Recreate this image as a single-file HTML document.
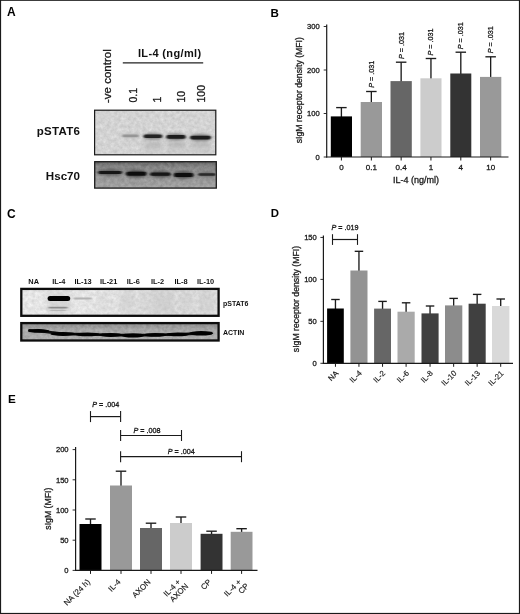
<!DOCTYPE html>
<html><head><meta charset="utf-8"><title>Figure</title>
<style>
html,body{margin:0;padding:0;background:#fff;}
body{width:520px;height:614px;overflow:hidden;}
svg{display:block;}
svg text{font-family:"Liberation Sans",sans-serif;}
</style></head><body>
<svg width="520" height="614" viewBox="0 0 520 614">
<defs>
<filter id="nz" x="0" y="0" width="100%" height="100%" color-interpolation-filters="sRGB"><feTurbulence type="fractalNoise" baseFrequency="0.28" numOctaves="3" seed="7" result="t"/><feColorMatrix in="t" type="matrix" values="1 0 0 0 0  1 0 0 0 0  1 0 0 0 0  0 0 0 0 1" result="g"/><feComposite in="SourceGraphic" in2="g" operator="arithmetic" k1="0" k2="1" k3="0.16" k4="-0.08" result="c"/><feComposite in="c" in2="SourceGraphic" operator="in"/></filter>
<filter id="b0" x="-20%" y="-150%" width="140%" height="400%"><feGaussianBlur stdDeviation="0.55 0.5"/></filter>
<filter id="b1" x="-20%" y="-150%" width="140%" height="400%"><feGaussianBlur stdDeviation="1.0 0.75"/></filter>
<filter id="b2" x="-20%" y="-150%" width="140%" height="400%"><feGaussianBlur stdDeviation="1.6 1.4"/></filter>
<filter id="b3" x="-30%" y="-50%" width="160%" height="200%"><feGaussianBlur stdDeviation="2.5 3"/></filter>
<clipPath id="cC1"><rect x="22.3" y="289.8" width="195.4" height="25"/></clipPath>
<clipPath id="cC2"><rect x="22.3" y="324" width="195.4" height="15.6"/></clipPath>
<linearGradient id="gC1" x1="0" y1="0" x2="1" y2="0"><stop offset="0" stop-color="#e6e6e6"/><stop offset="0.45" stop-color="#e3e3e3"/><stop offset="0.7" stop-color="#dadada"/><stop offset="1" stop-color="#dcdcdc"/></linearGradient>
<linearGradient id="gC2" x1="0" y1="0" x2="0" y2="1"><stop offset="0" stop-color="#8e8e8e"/><stop offset="0.4" stop-color="#a6a6a6"/><stop offset="1" stop-color="#aeaeae"/></linearGradient>
<clipPath id="cA1"><rect x="95.2" y="110.8" width="120" height="43.4"/></clipPath>
<clipPath id="cA2"><rect x="95.2" y="162.6" width="120.6" height="25.2"/></clipPath>
<linearGradient id="gA2" x1="0" y1="0" x2="0" y2="1"><stop offset="0" stop-color="#666"/><stop offset="0.2" stop-color="#858585"/><stop offset="0.5" stop-color="#959595"/><stop offset="1" stop-color="#a2a2a2"/></linearGradient>
</defs>
<rect x="0" y="0" width="520" height="614" fill="#fff"/>
<text x="7" y="16.3" font-size="12" text-anchor="start" font-weight="bold" fill="#000">A</text>
<text x="270.6" y="16.8" font-size="11.6" text-anchor="start" font-weight="bold" fill="#000">B</text>
<text x="7.1" y="217.6" font-size="12" text-anchor="start" font-weight="bold" fill="#000">C</text>
<text x="270.7" y="217.3" font-size="11.4" text-anchor="start" font-weight="bold" fill="#000">D</text>
<text x="8" y="402.8" font-size="11.7" text-anchor="start" font-weight="bold" fill="#000">E</text>
<text x="111.3" y="103" font-size="11.5" text-anchor="start" font-weight="normal" fill="#1a1a1a" stroke="#1a1a1a" stroke-width="0.3" transform="rotate(-90 111.3 103)">-ve control</text>
<text x="169.7" y="56.7" font-size="11" text-anchor="middle" font-weight="bold" fill="#111" letter-spacing="0.36">IL-4 (ng/ml)</text>
<line x1="122.8" y1="62.9" x2="203.2" y2="62.9" stroke="#222" stroke-width="1.1"/>
<text x="136.8" y="102.5" font-size="10.5" text-anchor="start" font-weight="normal" fill="#1a1a1a" stroke="#1a1a1a" stroke-width="0.3" transform="rotate(-90 136.8 102.5)">0.1</text>
<text x="161" y="102.5" font-size="10.5" text-anchor="start" font-weight="normal" fill="#1a1a1a" stroke="#1a1a1a" stroke-width="0.3" transform="rotate(-90 161 102.5)">1</text>
<text x="185" y="102.5" font-size="10.5" text-anchor="start" font-weight="normal" fill="#1a1a1a" stroke="#1a1a1a" stroke-width="0.3" transform="rotate(-90 185 102.5)">10</text>
<text x="204.5" y="102.5" font-size="10.5" text-anchor="start" font-weight="normal" fill="#1a1a1a" stroke="#1a1a1a" stroke-width="0.3" transform="rotate(-90 204.5 102.5)">100</text>
<text x="80.2" y="134.7" font-size="11.5" text-anchor="end" font-weight="bold" fill="#111" letter-spacing="0.3">pSTAT6</text>
<text x="80" y="180.1" font-size="11.6" text-anchor="end" font-weight="bold" fill="#111">Hsc70</text>
<rect x="94.6" y="110.2" width="121.2" height="44.6" fill="#d3d3d3" filter="url(#nz)"/>
<rect x="94.6" y="110.2" width="121.2" height="44.6" fill="none" stroke="#1a1a1a" stroke-width="1.2"/>
<g clip-path="url(#cA1)">
<rect x="143" y="139" width="19" height="15" fill="#bdbdbd" opacity="0.45" filter="url(#b3)"/>
<rect x="166" y="139" width="20" height="15" fill="#bdbdbd" opacity="0.45" filter="url(#b3)"/>
<rect x="190" y="139" width="21" height="15" fill="#bdbdbd" opacity="0.45" filter="url(#b3)"/>
<ellipse cx="130.5" cy="135.9" rx="9.0" ry="2.25" fill="#bdbdbd" filter="url(#b2)"/>
<rect x="122.3" y="134.5" width="16.4" height="2.8" rx="1.4" fill="#969696" filter="url(#b1)"/>
<ellipse cx="152.9" cy="136.3" rx="9.900000000000006" ry="3.0" fill="#777" filter="url(#b2)"/>
<rect x="143.8" y="134.60000000000002" width="18.20000000000001" height="3.4" rx="1.7" fill="#222" filter="url(#b1)"/>
<ellipse cx="176.0" cy="136.9" rx="10.199999999999989" ry="3.25" fill="#707070" filter="url(#b2)"/>
<rect x="166.60000000000002" y="135.1" width="18.799999999999976" height="3.6" rx="1.8" fill="#1c1c1c" filter="url(#b1)"/>
<ellipse cx="200.5" cy="137.6" rx="11.0" ry="3.25" fill="#707070" filter="url(#b2)"/>
<rect x="190.3" y="135.79999999999998" width="20.4" height="3.6" rx="1.8" fill="#1c1c1c" filter="url(#b1)"/>
<rect x="146" y="143.5" width="15" height="2.5" fill="#a0a0a0" opacity="0.55" filter="url(#b2)"/>
<rect x="169" y="143.5" width="16" height="2.5" fill="#a0a0a0" opacity="0.55" filter="url(#b2)"/>
<rect x="192" y="143.5" width="18" height="2.5" fill="#a0a0a0" opacity="0.55" filter="url(#b2)"/>
</g>
<rect x="94.7" y="161.7" width="121.6" height="26.4" fill="url(#gA2)" filter="url(#nz)"/>
<rect x="94.7" y="161.7" width="121.6" height="26.4" fill="none" stroke="#1a1a1a" stroke-width="1.3"/>
<g clip-path="url(#cA2)">
<ellipse cx="110.05" cy="172.5" rx="12.450000000000003" ry="3.0" fill="#555" filter="url(#b2)"/>
<rect x="98.39999999999999" y="171.1" width="23.300000000000004" height="2.8" rx="1.4" fill="#161616" filter="url(#b1)"/>
<ellipse cx="136.25" cy="173.8" rx="10.75" ry="3.75" fill="#4a4a4a" filter="url(#b2)"/>
<rect x="126.3" y="171.8" width="19.9" height="4.0" rx="2.0" fill="#0a0a0a" filter="url(#b1)"/>
<ellipse cx="160.39999999999998" cy="174.2" rx="10.799999999999997" ry="3.25" fill="#505050" filter="url(#b2)"/>
<rect x="150.4" y="172.6" width="19.999999999999993" height="3.2" rx="1.6" fill="#121212" filter="url(#b1)"/>
<ellipse cx="183.6" cy="174.9" rx="10.400000000000006" ry="3.75" fill="#4a4a4a" filter="url(#b2)"/>
<rect x="174.0" y="172.9" width="19.20000000000001" height="4.0" rx="2.0" fill="#0a0a0a" filter="url(#b1)"/>
<ellipse cx="207.0" cy="174.5" rx="9.5" ry="2.5" fill="#666" filter="url(#b2)"/>
<rect x="198.3" y="173.3" width="17.4" height="2.4" rx="1.2" fill="#2a2a2a" filter="url(#b1)"/>
</g>
<line x1="341.4" y1="107.6" x2="341.4" y2="117.4" stroke="#1c1c1c" stroke-width="1.35"/>
<line x1="336.15" y1="107.6" x2="346.65" y2="107.6" stroke="#1c1c1c" stroke-width="1.35"/>
<rect x="330.8" y="116.4" width="21.19999999999999" height="40.599999999999994" fill="#000"/>
<line x1="371.35" y1="91.5" x2="371.35" y2="103" stroke="#1c1c1c" stroke-width="1.35"/>
<line x1="366.1" y1="91.5" x2="376.6" y2="91.5" stroke="#1c1c1c" stroke-width="1.35"/>
<rect x="360.7" y="102" width="21.30000000000001" height="55.0" fill="#999"/>
<line x1="401.15" y1="62.2" x2="401.15" y2="82.1" stroke="#1c1c1c" stroke-width="1.35"/>
<line x1="395.9" y1="62.2" x2="406.4" y2="62.2" stroke="#1c1c1c" stroke-width="1.35"/>
<rect x="390.5" y="81.1" width="21.30000000000001" height="75.9" fill="#666"/>
<line x1="430.95" y1="58.5" x2="430.95" y2="79.3" stroke="#1c1c1c" stroke-width="1.35"/>
<line x1="425.7" y1="58.5" x2="436.2" y2="58.5" stroke="#1c1c1c" stroke-width="1.35"/>
<rect x="420.4" y="78.3" width="21.100000000000023" height="78.7" fill="#ccc"/>
<line x1="460.8" y1="52.2" x2="460.8" y2="74.5" stroke="#1c1c1c" stroke-width="1.35"/>
<line x1="455.55" y1="52.2" x2="466.05" y2="52.2" stroke="#1c1c1c" stroke-width="1.35"/>
<rect x="450.3" y="73.5" width="21.0" height="83.5" fill="#333"/>
<line x1="490.65" y1="56.8" x2="490.65" y2="77.9" stroke="#1c1c1c" stroke-width="1.35"/>
<line x1="485.4" y1="56.8" x2="495.9" y2="56.8" stroke="#1c1c1c" stroke-width="1.35"/>
<rect x="480" y="76.9" width="21.30000000000001" height="80.1" fill="#999"/>
<line x1="326.7" y1="24.5" x2="326.7" y2="157.6" stroke="#1a1a1a" stroke-width="1.2"/>
<line x1="326.09999999999997" y1="157.0" x2="508.5" y2="157.0" stroke="#1a1a1a" stroke-width="1.2"/>
<line x1="323.7" y1="157.0" x2="326.7" y2="157.0" stroke="#1a1a1a" stroke-width="0.9"/>
<text x="319.7" y="159.75" font-size="7.6" text-anchor="end" font-weight="normal" fill="#1a1a1a" stroke="#1a1a1a" stroke-width="0.3">0</text>
<line x1="323.7" y1="113.5" x2="326.7" y2="113.5" stroke="#1a1a1a" stroke-width="0.9"/>
<text x="319.7" y="116.25" font-size="7.6" text-anchor="end" font-weight="normal" fill="#1a1a1a" stroke="#1a1a1a" stroke-width="0.3">100</text>
<line x1="323.7" y1="70.0" x2="326.7" y2="70.0" stroke="#1a1a1a" stroke-width="0.9"/>
<text x="319.7" y="72.75" font-size="7.6" text-anchor="end" font-weight="normal" fill="#1a1a1a" stroke="#1a1a1a" stroke-width="0.3">200</text>
<line x1="323.7" y1="26.5" x2="326.7" y2="26.5" stroke="#1a1a1a" stroke-width="0.9"/>
<text x="319.7" y="29.25" font-size="7.6" text-anchor="end" font-weight="normal" fill="#1a1a1a" stroke="#1a1a1a" stroke-width="0.3">300</text>
<line x1="341.4" y1="157.0" x2="341.4" y2="160.5" stroke="#1a1a1a" stroke-width="1"/>
<text x="341.4" y="170" font-size="8" text-anchor="middle" font-weight="normal" fill="#1a1a1a" stroke="#1a1a1a" stroke-width="0.3">0</text>
<line x1="371.35" y1="157.0" x2="371.35" y2="160.5" stroke="#1a1a1a" stroke-width="1"/>
<text x="371.35" y="170" font-size="8" text-anchor="middle" font-weight="normal" fill="#1a1a1a" stroke="#1a1a1a" stroke-width="0.3">0.1</text>
<line x1="401.15" y1="157.0" x2="401.15" y2="160.5" stroke="#1a1a1a" stroke-width="1"/>
<text x="401.15" y="170" font-size="8" text-anchor="middle" font-weight="normal" fill="#1a1a1a" stroke="#1a1a1a" stroke-width="0.3">0.4</text>
<line x1="430.95" y1="157.0" x2="430.95" y2="160.5" stroke="#1a1a1a" stroke-width="1"/>
<text x="430.95" y="170" font-size="8" text-anchor="middle" font-weight="normal" fill="#1a1a1a" stroke="#1a1a1a" stroke-width="0.3">1</text>
<line x1="460.8" y1="157.0" x2="460.8" y2="160.5" stroke="#1a1a1a" stroke-width="1"/>
<text x="460.8" y="170" font-size="8" text-anchor="middle" font-weight="normal" fill="#1a1a1a" stroke="#1a1a1a" stroke-width="0.3">4</text>
<line x1="490.65" y1="157.0" x2="490.65" y2="160.5" stroke="#1a1a1a" stroke-width="1"/>
<text x="490.65" y="170" font-size="8" text-anchor="middle" font-weight="normal" fill="#1a1a1a" stroke="#1a1a1a" stroke-width="0.3">10</text>
<text x="416" y="182.8" font-size="9" text-anchor="middle" font-weight="normal" fill="#1a1a1a" stroke="#1a1a1a" stroke-width="0.3">IL-4 (ng/ml)</text>
<text x="301.7" y="90.2" font-size="8.7" text-anchor="middle" font-weight="normal" fill="#1a1a1a" stroke="#1a1a1a" stroke-width="0.3" transform="rotate(-90 301.7 90.2)">sIgM receptor density (MFI)</text>
<text x="373.6" y="87.7" font-size="7.2" text-anchor="start" font-weight="normal" fill="#1a1a1a" stroke="#1a1a1a" stroke-width="0.3" transform="rotate(-90 373.6 87.7)"><tspan font-style="italic">P</tspan> = .031</text>
<text x="403.6" y="59" font-size="7.2" text-anchor="start" font-weight="normal" fill="#1a1a1a" stroke="#1a1a1a" stroke-width="0.3" transform="rotate(-90 403.6 59)"><tspan font-style="italic">P</tspan> = .031</text>
<text x="433.2" y="55.5" font-size="7.2" text-anchor="start" font-weight="normal" fill="#1a1a1a" stroke="#1a1a1a" stroke-width="0.3" transform="rotate(-90 433.2 55.5)"><tspan font-style="italic">P</tspan> = .031</text>
<text x="463.1" y="49.3" font-size="7.2" text-anchor="start" font-weight="normal" fill="#1a1a1a" stroke="#1a1a1a" stroke-width="0.3" transform="rotate(-90 463.1 49.3)"><tspan font-style="italic">P</tspan> = .031</text>
<text x="492.6" y="53.2" font-size="7.2" text-anchor="start" font-weight="normal" fill="#1a1a1a" stroke="#1a1a1a" stroke-width="0.3" transform="rotate(-90 492.6 53.2)"><tspan font-style="italic">P</tspan> = .031</text>
<text x="33.7" y="283.9" font-size="7.4" text-anchor="middle" font-weight="bold" fill="#111">NA</text>
<text x="58.8" y="283.9" font-size="7.4" text-anchor="middle" font-weight="bold" fill="#111">IL-4</text>
<text x="83.1" y="283.9" font-size="7.4" text-anchor="middle" font-weight="bold" fill="#111">IL-13</text>
<text x="108.7" y="283.9" font-size="7.4" text-anchor="middle" font-weight="bold" fill="#111">IL-21</text>
<text x="133.2" y="283.9" font-size="7.4" text-anchor="middle" font-weight="bold" fill="#111">IL-6</text>
<text x="157.5" y="283.9" font-size="7.4" text-anchor="middle" font-weight="bold" fill="#111">IL-2</text>
<text x="181" y="283.9" font-size="7.4" text-anchor="middle" font-weight="bold" fill="#111">IL-8</text>
<text x="205.5" y="283.9" font-size="7.4" text-anchor="middle" font-weight="bold" fill="#111">IL-10</text>
<text x="223" y="305.5" font-size="7" text-anchor="start" font-weight="bold" fill="#111">pSTAT6</text>
<text x="223" y="335.2" font-size="7" text-anchor="start" font-weight="bold" fill="#111">ACTIN</text>
<rect x="21.3" y="288.9" width="197.3" height="26.9" fill="url(#gC1)" filter="url(#nz)"/>
<rect x="21.3" y="288.9" width="197.3" height="26.9" fill="none" stroke="#0c0c0c" stroke-width="2.3"/>
<g clip-path="url(#cC1)">
<rect x="47.2" y="292" width="23" height="22" fill="#c4c4c4" opacity="0.5" filter="url(#b3)"/>
<rect x="120" y="291" width="14" height="22" fill="#c2c2c2" opacity="0.4" filter="url(#b3)"/>
<rect x="140" y="290" width="10" height="24" fill="#c2c2c2" opacity="0.27999999999999997" filter="url(#b3)"/>
<rect x="152" y="291" width="22" height="22" fill="#c2c2c2" opacity="0.44000000000000006" filter="url(#b3)"/>
<rect x="180" y="292" width="12" height="20" fill="#c2c2c2" opacity="0.32000000000000006" filter="url(#b3)"/>
<rect x="198" y="290" width="16" height="24" fill="#c2c2c2" opacity="0.36000000000000004" filter="url(#b3)"/>
<rect x="98" y="292" width="12" height="20" fill="#c2c2c2" opacity="0.2" filter="url(#b3)"/>
<rect x="47.6" y="296.0" width="22.6" height="5.0" rx="2.5" fill="#030303" filter="url(#b0)"/>
<rect x="48.5" y="306.70000000000005" width="19.0" height="1.8" rx="0.9" fill="#8a8a8a" filter="url(#b1)"/>
<rect x="50" y="309.7" width="16" height="1.2" rx="0.6" fill="#b8b8b8" filter="url(#b1)"/>
<rect x="73.5" y="297.6" width="18.5" height="2.0" rx="1.0" fill="#b4b4b4" filter="url(#b1)"/>
</g>
<rect x="21.3" y="323.1" width="197.3" height="17.4" fill="url(#gC2)" filter="url(#nz)"/>
<rect x="21.3" y="323.1" width="197.3" height="17.4" fill="none" stroke="#0c0c0c" stroke-width="2.3"/>
<g clip-path="url(#cC2)">
<polyline points="29.5,330.4 38.7,330.9 63.0,333.9 87.25,334.3 110.75,334.9 133.0,335.4 155.25,334.9 177.75,334.3 201.15,333.3 211,333.2" fill="none" stroke="#0a0a0a" stroke-width="2.8" stroke-linecap="round" stroke-linejoin="round" filter="url(#b0)"/>
<ellipse cx="38.7" cy="330.9" rx="10.8" ry="1.8" fill="#060606" filter="url(#b0)"/>
<ellipse cx="63.0" cy="333.9" rx="12.5" ry="1.9800000000000002" fill="#060606" filter="url(#b0)"/>
<ellipse cx="87.25" cy="334.3" rx="12.25" ry="1.8900000000000001" fill="#060606" filter="url(#b0)"/>
<ellipse cx="110.75" cy="334.9" rx="11.75" ry="1.9800000000000002" fill="#060606" filter="url(#b0)"/>
<ellipse cx="133.0" cy="335.4" rx="11.5" ry="2.16" fill="#060606" filter="url(#b0)"/>
<ellipse cx="155.25" cy="334.9" rx="11.25" ry="1.8900000000000001" fill="#060606" filter="url(#b0)"/>
<ellipse cx="177.75" cy="334.3" rx="11.75" ry="1.8900000000000001" fill="#060606" filter="url(#b0)"/>
<ellipse cx="201.15" cy="333.3" rx="12.150000000000006" ry="2.25" fill="#060606" filter="url(#b0)"/>
</g>
<line x1="335.45000000000005" y1="299.5" x2="335.45000000000005" y2="309.5" stroke="#1c1c1c" stroke-width="1.35"/>
<line x1="331.20000000000005" y1="299.5" x2="339.70000000000005" y2="299.5" stroke="#1c1c1c" stroke-width="1.35"/>
<rect x="327.1" y="308.5" width="16.69999999999999" height="54.80000000000001" fill="#000"/>
<line x1="358.95" y1="251.3" x2="358.95" y2="271.5" stroke="#1c1c1c" stroke-width="1.35"/>
<line x1="354.7" y1="251.3" x2="363.2" y2="251.3" stroke="#1c1c1c" stroke-width="1.35"/>
<rect x="350.4" y="270.5" width="17.100000000000023" height="92.80000000000001" fill="#939393"/>
<line x1="382.55" y1="301.4" x2="382.55" y2="309.6" stroke="#1c1c1c" stroke-width="1.35"/>
<line x1="378.3" y1="301.4" x2="386.8" y2="301.4" stroke="#1c1c1c" stroke-width="1.35"/>
<rect x="374.1" y="308.6" width="16.899999999999977" height="54.69999999999999" fill="#666"/>
<line x1="406.1" y1="302.8" x2="406.1" y2="312.7" stroke="#1c1c1c" stroke-width="1.35"/>
<line x1="401.85" y1="302.8" x2="410.35" y2="302.8" stroke="#1c1c1c" stroke-width="1.35"/>
<rect x="397.5" y="311.7" width="17.19999999999999" height="51.60000000000002" fill="#aaa"/>
<line x1="430.05" y1="306" x2="430.05" y2="314.4" stroke="#1c1c1c" stroke-width="1.35"/>
<line x1="425.8" y1="306" x2="434.3" y2="306" stroke="#1c1c1c" stroke-width="1.35"/>
<rect x="421.5" y="313.4" width="17.100000000000023" height="49.900000000000034" fill="#404040"/>
<line x1="453.65" y1="298.4" x2="453.65" y2="306.4" stroke="#1c1c1c" stroke-width="1.35"/>
<line x1="449.4" y1="298.4" x2="457.9" y2="298.4" stroke="#1c1c1c" stroke-width="1.35"/>
<rect x="445" y="305.4" width="17.30000000000001" height="57.900000000000034" fill="#8c8c8c"/>
<line x1="477.15" y1="294.4" x2="477.15" y2="304.7" stroke="#1c1c1c" stroke-width="1.35"/>
<line x1="472.9" y1="294.4" x2="481.4" y2="294.4" stroke="#1c1c1c" stroke-width="1.35"/>
<rect x="468.6" y="303.7" width="17.099999999999966" height="59.60000000000002" fill="#404040"/>
<line x1="500.7" y1="299" x2="500.7" y2="307" stroke="#1c1c1c" stroke-width="1.35"/>
<line x1="496.45" y1="299" x2="504.95" y2="299" stroke="#1c1c1c" stroke-width="1.35"/>
<rect x="492" y="306" width="17.399999999999977" height="57.30000000000001" fill="#d9d9d9"/>
<line x1="323.4" y1="235.5" x2="323.4" y2="363.90000000000003" stroke="#1a1a1a" stroke-width="1.2"/>
<line x1="322.79999999999995" y1="363.3" x2="513" y2="363.3" stroke="#1a1a1a" stroke-width="1.2"/>
<line x1="320.4" y1="363.3" x2="323.4" y2="363.3" stroke="#1a1a1a" stroke-width="0.9"/>
<text x="316.79999999999995" y="366.05" font-size="7.6" text-anchor="end" font-weight="normal" fill="#1a1a1a" stroke="#1a1a1a" stroke-width="0.3">0</text>
<line x1="320.4" y1="321.35" x2="323.4" y2="321.35" stroke="#1a1a1a" stroke-width="0.9"/>
<text x="316.79999999999995" y="324.1" font-size="7.6" text-anchor="end" font-weight="normal" fill="#1a1a1a" stroke="#1a1a1a" stroke-width="0.3">50</text>
<line x1="320.4" y1="279.40000000000003" x2="323.4" y2="279.40000000000003" stroke="#1a1a1a" stroke-width="0.9"/>
<text x="316.79999999999995" y="282.15000000000003" font-size="7.6" text-anchor="end" font-weight="normal" fill="#1a1a1a" stroke="#1a1a1a" stroke-width="0.3">100</text>
<line x1="320.4" y1="237.45000000000002" x2="323.4" y2="237.45000000000002" stroke="#1a1a1a" stroke-width="0.9"/>
<text x="316.79999999999995" y="240.20000000000002" font-size="7.6" text-anchor="end" font-weight="normal" fill="#1a1a1a" stroke="#1a1a1a" stroke-width="0.3">150</text>
<line x1="335.45000000000005" y1="363.3" x2="335.45000000000005" y2="366.8" stroke="#1a1a1a" stroke-width="1"/>
<text x="338.85" y="373.8" font-size="7.8" text-anchor="end" font-weight="normal" fill="#1a1a1a" stroke="#1a1a1a" stroke-width="0.15" transform="rotate(-45 338.85 373.8)">NA</text>
<line x1="358.95" y1="363.3" x2="358.95" y2="366.8" stroke="#1a1a1a" stroke-width="1"/>
<text x="362.34999999999997" y="373.8" font-size="7.8" text-anchor="end" font-weight="normal" fill="#1a1a1a" stroke="#1a1a1a" stroke-width="0.15" transform="rotate(-45 362.34999999999997 373.8)">IL-4</text>
<line x1="382.55" y1="363.3" x2="382.55" y2="366.8" stroke="#1a1a1a" stroke-width="1"/>
<text x="385.95" y="373.8" font-size="7.8" text-anchor="end" font-weight="normal" fill="#1a1a1a" stroke="#1a1a1a" stroke-width="0.15" transform="rotate(-45 385.95 373.8)">IL-2</text>
<line x1="406.1" y1="363.3" x2="406.1" y2="366.8" stroke="#1a1a1a" stroke-width="1"/>
<text x="409.5" y="373.8" font-size="7.8" text-anchor="end" font-weight="normal" fill="#1a1a1a" stroke="#1a1a1a" stroke-width="0.15" transform="rotate(-45 409.5 373.8)">IL-6</text>
<line x1="430.05" y1="363.3" x2="430.05" y2="366.8" stroke="#1a1a1a" stroke-width="1"/>
<text x="433.45" y="373.8" font-size="7.8" text-anchor="end" font-weight="normal" fill="#1a1a1a" stroke="#1a1a1a" stroke-width="0.15" transform="rotate(-45 433.45 373.8)">IL-8</text>
<line x1="453.65" y1="363.3" x2="453.65" y2="366.8" stroke="#1a1a1a" stroke-width="1"/>
<text x="457.04999999999995" y="373.8" font-size="7.8" text-anchor="end" font-weight="normal" fill="#1a1a1a" stroke="#1a1a1a" stroke-width="0.15" transform="rotate(-45 457.04999999999995 373.8)">IL-10</text>
<line x1="477.15" y1="363.3" x2="477.15" y2="366.8" stroke="#1a1a1a" stroke-width="1"/>
<text x="480.54999999999995" y="373.8" font-size="7.8" text-anchor="end" font-weight="normal" fill="#1a1a1a" stroke="#1a1a1a" stroke-width="0.15" transform="rotate(-45 480.54999999999995 373.8)">IL-13</text>
<line x1="500.7" y1="363.3" x2="500.7" y2="366.8" stroke="#1a1a1a" stroke-width="1"/>
<text x="504.09999999999997" y="373.8" font-size="7.8" text-anchor="end" font-weight="normal" fill="#1a1a1a" stroke="#1a1a1a" stroke-width="0.15" transform="rotate(-45 504.09999999999997 373.8)">IL-21</text>
<text x="299" y="299.05" font-size="8.7" text-anchor="middle" font-weight="normal" fill="#1a1a1a" stroke="#1a1a1a" stroke-width="0.3" transform="rotate(-90 299 299.05)">sIgM receptor density (MFI)</text>
<text x="345" y="229.6" font-size="7.2" text-anchor="middle" font-weight="normal" fill="#1a1a1a" stroke="#1a1a1a" stroke-width="0.3"><tspan font-style="italic">P</tspan> = .019</text>
<line x1="332.5" y1="239.5" x2="357.5" y2="239.5" stroke="#1a1a1a" stroke-width="1.2"/>
<line x1="332.5" y1="234.2" x2="332.5" y2="244.9" stroke="#1a1a1a" stroke-width="1.1"/>
<line x1="357.5" y1="234.2" x2="357.5" y2="244.9" stroke="#1a1a1a" stroke-width="1.1"/>
<line x1="90.5" y1="519" x2="90.5" y2="525.0" stroke="#1c1c1c" stroke-width="1.35"/>
<line x1="85.25" y1="519" x2="95.75" y2="519" stroke="#1c1c1c" stroke-width="1.35"/>
<rect x="79.5" y="524.0" width="22.0" height="46.39999999999998" fill="#000"/>
<line x1="121.0" y1="471.2" x2="121.0" y2="486.5" stroke="#1c1c1c" stroke-width="1.35"/>
<line x1="115.75" y1="471.2" x2="126.25" y2="471.2" stroke="#1c1c1c" stroke-width="1.35"/>
<rect x="110" y="485.5" width="22" height="84.89999999999998" fill="#999"/>
<line x1="151.0" y1="523.2" x2="151.0" y2="529" stroke="#1c1c1c" stroke-width="1.35"/>
<line x1="145.75" y1="523.2" x2="156.25" y2="523.2" stroke="#1c1c1c" stroke-width="1.35"/>
<rect x="140" y="528" width="22" height="42.39999999999998" fill="#666"/>
<line x1="181.0" y1="517" x2="181.0" y2="524" stroke="#1c1c1c" stroke-width="1.35"/>
<line x1="175.75" y1="517" x2="186.25" y2="517" stroke="#1c1c1c" stroke-width="1.35"/>
<rect x="170" y="523" width="22" height="47.39999999999998" fill="#ccc"/>
<line x1="211.55" y1="531.2" x2="211.55" y2="534.8" stroke="#1c1c1c" stroke-width="1.35"/>
<line x1="206.3" y1="531.2" x2="216.8" y2="531.2" stroke="#1c1c1c" stroke-width="1.35"/>
<rect x="200.6" y="533.8" width="21.900000000000006" height="36.60000000000002" fill="#333"/>
<line x1="241.6" y1="528.7" x2="241.6" y2="532.8" stroke="#1c1c1c" stroke-width="1.35"/>
<line x1="236.35" y1="528.7" x2="246.85" y2="528.7" stroke="#1c1c1c" stroke-width="1.35"/>
<rect x="230.7" y="531.8" width="21.80000000000001" height="38.60000000000002" fill="#999"/>
<line x1="75.6" y1="447" x2="75.6" y2="571.0" stroke="#1a1a1a" stroke-width="1.2"/>
<line x1="75.0" y1="570.4" x2="257.5" y2="570.4" stroke="#1a1a1a" stroke-width="1.2"/>
<line x1="72.6" y1="570.4" x2="75.6" y2="570.4" stroke="#1a1a1a" stroke-width="0.9"/>
<text x="68.6" y="573.15" font-size="7.6" text-anchor="end" font-weight="normal" fill="#1a1a1a" stroke="#1a1a1a" stroke-width="0.3">0</text>
<line x1="72.6" y1="540.1999999999999" x2="75.6" y2="540.1999999999999" stroke="#1a1a1a" stroke-width="0.9"/>
<text x="68.6" y="542.9499999999999" font-size="7.6" text-anchor="end" font-weight="normal" fill="#1a1a1a" stroke="#1a1a1a" stroke-width="0.3">50</text>
<line x1="72.6" y1="510.0" x2="75.6" y2="510.0" stroke="#1a1a1a" stroke-width="0.9"/>
<text x="68.6" y="512.75" font-size="7.6" text-anchor="end" font-weight="normal" fill="#1a1a1a" stroke="#1a1a1a" stroke-width="0.3">100</text>
<line x1="72.6" y1="479.79999999999995" x2="75.6" y2="479.79999999999995" stroke="#1a1a1a" stroke-width="0.9"/>
<text x="68.6" y="482.54999999999995" font-size="7.6" text-anchor="end" font-weight="normal" fill="#1a1a1a" stroke="#1a1a1a" stroke-width="0.3">150</text>
<line x1="72.6" y1="449.59999999999997" x2="75.6" y2="449.59999999999997" stroke="#1a1a1a" stroke-width="0.9"/>
<text x="68.6" y="452.34999999999997" font-size="7.6" text-anchor="end" font-weight="normal" fill="#1a1a1a" stroke="#1a1a1a" stroke-width="0.3">200</text>
<line x1="90.5" y1="570.4" x2="90.5" y2="573.9" stroke="#1a1a1a" stroke-width="1"/>
<g transform="translate(91.3 581.8) rotate(-45)">
<text x="-1" y="0.0" font-size="7.9" text-anchor="end" fill="#1a1a1a" stroke="#1a1a1a" stroke-width="0.15">NA (24 h)</text>
</g>
<line x1="121.0" y1="570.4" x2="121.0" y2="573.9" stroke="#1a1a1a" stroke-width="1"/>
<g transform="translate(121.8 581.8) rotate(-45)">
<text x="-1" y="0.0" font-size="7.9" text-anchor="end" fill="#1a1a1a" stroke="#1a1a1a" stroke-width="0.15">IL-4</text>
</g>
<line x1="151.0" y1="570.4" x2="151.0" y2="573.9" stroke="#1a1a1a" stroke-width="1"/>
<g transform="translate(151.8 581.8) rotate(-45)">
<text x="-1" y="0.0" font-size="7.9" text-anchor="end" fill="#1a1a1a" stroke="#1a1a1a" stroke-width="0.15">AXON</text>
</g>
<line x1="181.0" y1="570.4" x2="181.0" y2="573.9" stroke="#1a1a1a" stroke-width="1"/>
<g transform="translate(181.8 581.8) rotate(-45)">
<text x="-1" y="0.0" font-size="7.9" text-anchor="end" fill="#1a1a1a" stroke="#1a1a1a" stroke-width="0.15">IL-4 +</text>
<text x="1.5" y="8.3" font-size="7.9" text-anchor="end" fill="#1a1a1a" stroke="#1a1a1a" stroke-width="0.15">AXON</text>
</g>
<line x1="211.55" y1="570.4" x2="211.55" y2="573.9" stroke="#1a1a1a" stroke-width="1"/>
<g transform="translate(212.35000000000002 581.8) rotate(-45)">
<text x="-1" y="0.0" font-size="7.9" text-anchor="end" fill="#1a1a1a" stroke="#1a1a1a" stroke-width="0.15">CP</text>
</g>
<line x1="241.6" y1="570.4" x2="241.6" y2="573.9" stroke="#1a1a1a" stroke-width="1"/>
<g transform="translate(242.4 581.8) rotate(-45)">
<text x="-1" y="0.0" font-size="7.9" text-anchor="end" fill="#1a1a1a" stroke="#1a1a1a" stroke-width="0.15">IL-4 +</text>
<text x="1.5" y="8.3" font-size="7.9" text-anchor="end" fill="#1a1a1a" stroke="#1a1a1a" stroke-width="0.15">CP</text>
</g>
<text x="51.3" y="508.7" font-size="8.7" text-anchor="middle" font-weight="normal" fill="#1a1a1a" stroke="#1a1a1a" stroke-width="0.3" transform="rotate(-90 51.3 508.7)">sIgM (MFI)</text>
<line x1="90.5" y1="416.6" x2="120.6" y2="416.6" stroke="#1a1a1a" stroke-width="1.2"/>
<line x1="90.5" y1="411.1" x2="90.5" y2="422.1" stroke="#1a1a1a" stroke-width="1.1"/>
<line x1="120.6" y1="411.1" x2="120.6" y2="422.1" stroke="#1a1a1a" stroke-width="1.1"/>
<line x1="120.6" y1="435.5" x2="181.5" y2="435.5" stroke="#1a1a1a" stroke-width="1.2"/>
<line x1="120.6" y1="430.0" x2="120.6" y2="441.0" stroke="#1a1a1a" stroke-width="1.1"/>
<line x1="181.5" y1="430.0" x2="181.5" y2="441.0" stroke="#1a1a1a" stroke-width="1.1"/>
<line x1="120.6" y1="456.7" x2="241.5" y2="456.7" stroke="#1a1a1a" stroke-width="1.2"/>
<line x1="120.6" y1="451.2" x2="120.6" y2="462.2" stroke="#1a1a1a" stroke-width="1.1"/>
<line x1="241.5" y1="451.2" x2="241.5" y2="462.2" stroke="#1a1a1a" stroke-width="1.1"/>
<text x="105.7" y="406.7" font-size="7.2" text-anchor="middle" font-weight="normal" fill="#1a1a1a" stroke="#1a1a1a" stroke-width="0.3"><tspan font-style="italic">P</tspan> = .004</text>
<text x="147" y="433" font-size="7.2" text-anchor="middle" font-weight="normal" fill="#1a1a1a" stroke="#1a1a1a" stroke-width="0.3"><tspan font-style="italic">P</tspan> = .008</text>
<text x="181.2" y="454.2" font-size="7.2" text-anchor="middle" font-weight="normal" fill="#1a1a1a" stroke="#1a1a1a" stroke-width="0.3"><tspan font-style="italic">P</tspan> = .004</text>
<rect x="0" y="0" width="1.1" height="614" fill="#1a1a1a"/><rect x="0" y="0" width="520" height="0.85" fill="#1a1a1a"/><rect x="518.9" y="0" width="1.1" height="614" fill="#1a1a1a"/><rect x="0" y="612.9" width="520" height="1.1" fill="#1a1a1a"/>
</svg>
</body></html>
